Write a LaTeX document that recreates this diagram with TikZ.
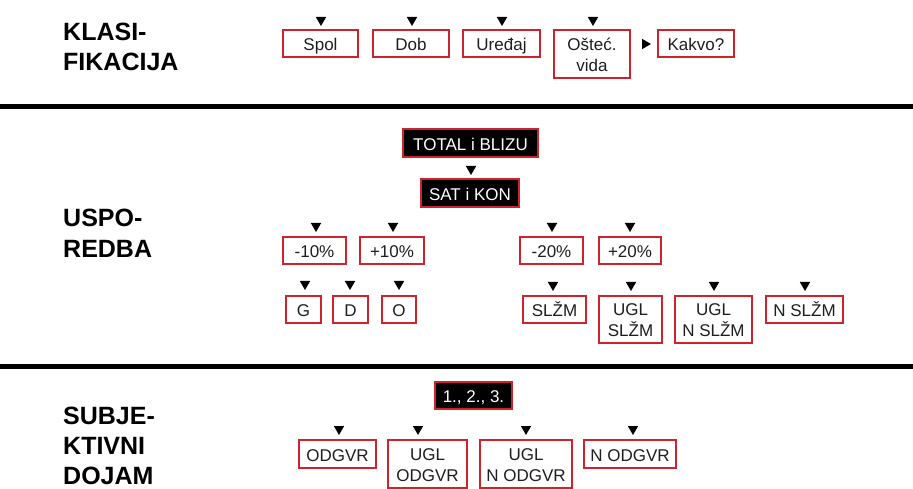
\documentclass[tikz,border=0pt]{standalone}
\usepackage{fontspec}
\setmainfont{Liberation Sans}
\usetikzlibrary{shapes.geometric}
\definecolor{boxred}{RGB}{205,35,45}
\definecolor{txt}{RGB}{30,30,30}
\newcommand\boxtxt[1]{\begin{tabular}{@{}c@{}}\rule{0pt}{20.7pt}#1\end{tabular}}
\newcommand\boxtxttwo[1]{\begin{tabular}{@{}c@{}}\rule{0pt}{19.7pt}#1\end{tabular}}
\tikzset{
  box/.style={draw=boxred, line width=2pt, fill=white, text=txt,
    font=\fontsize{17}{21}\selectfont, inner sep=0pt, outer sep=0pt},
  darkbox/.style={box, fill=black, text=white},
  tridown/.style={regular polygon, regular polygon sides=3, shape border rotate=180,
    fill=black, draw=none, inner sep=0pt, outer sep=0pt, minimum size=12pt, anchor=south},
  triright/.style={regular polygon, regular polygon sides=3, shape border rotate=270,
    fill=black, draw=none, inner sep=0pt, outer sep=0pt, minimum size=12pt, anchor=east},
  head/.style={font=\fontsize{25}{30}\selectfont\bfseries, text=black, anchor=base west,
    inner sep=0pt, text depth=0pt},
  rule/.style={line width=5pt, black}
}
\begin{document}
\begin{tikzpicture}[x=1pt,y=-1pt]
\useasboundingbox (0,0) rectangle (913,489);
% separators
\coordinate (l1a) at (0,107); \coordinate (l1b) at (913,107);
\coordinate (l2a) at (0,366); \coordinate (l2b) at (913,366);
\draw[rule] (l1a) -- (l1b);
\draw[rule] (l2a) -- (l2b);
% headings
\node[head] (h1a) at (63,41) {KLASI-};
\node[head] (h1b) at (63,71) {FIKACIJA};
\node[head] (h2a) at (63,226) {USPO-};
\node[head] (h2b) at (63,258) {REDBA};
\node[head] (h3a) at (63,424) {SUBJE-};
\node[head] (h3b) at (63,454) {KTIVNI};
\node[head] (h3c) at (63,484) {DOJAM};
% section 1
\node[box, minimum width=75pt, minimum height=27pt] (spol) at (320.5,43.5) {\boxtxt{Spol}};
\node[box, minimum width=76pt, minimum height=27pt] (dob) at (411,43.5) {\boxtxt{Dob}};
\node[box, minimum width=77pt, minimum height=27pt] (ured) at (501.5,43.5) {\boxtxt{Uređaj}};
\node[box, minimum width=76pt, minimum height=48pt] (ostec) at (592,54) {\boxtxttwo{Ošteć.\\vida}};
\node[box, minimum width=76pt, minimum height=27pt] (kakvo) at (696,43.5) {\boxtxt{Kakvo?}};
\node[tridown] (t11) at (321,26) {};
\node[tridown] (t12) at (412,26) {};
\node[tridown] (t13) at (502,26) {};
\node[tridown] (t14) at (593,26) {};
\node[triright] (t15) at (651,44) {};
% section 2
\node[darkbox, minimum width=135pt, minimum height=28pt] (total) at (470.5,143) {\boxtxt{TOTAL i BLIZU}};
\node[tridown] (t20) at (471,175) {};
\node[darkbox, minimum width=98pt, minimum height=28pt] (satkon) at (470,193) {\boxtxt{SAT i KON}};
\node[box, minimum width=63pt, minimum height=27pt] (m10) at (314.5,250.5) {\boxtxt{-10\%}};
\node[box, minimum width=64pt, minimum height=27pt] (p10) at (392,250.5) {\boxtxt{+10\%}};
\node[box, minimum width=63pt, minimum height=27pt] (m20) at (551.5,250.5) {\boxtxt{-20\%}};
\node[box, minimum width=62pt, minimum height=27pt] (p20) at (630,250.5) {\boxtxt{+20\%}};
\node[tridown] (t21) at (316,232) {};
\node[tridown] (t22) at (393,232) {};
\node[tridown] (t23) at (552,232) {};
\node[tridown] (t24) at (630,232) {};
\node[box, minimum width=35pt, minimum height=27pt] (g) at (303.5,309.5) {\boxtxt{G}};
\node[box, minimum width=35pt, minimum height=27pt] (d) at (350.5,309.5) {\boxtxt{D}};
\node[box, minimum width=34pt, minimum height=27pt] (o) at (399,309.5) {\boxtxt{O}};
\node[box, minimum width=63pt, minimum height=27pt] (slzm) at (554.5,309.5) {\boxtxt{SLŽM}};
\node[box, minimum width=63pt, minimum height=47pt] (uglslzm) at (630.5,319.5) {\boxtxttwo{UGL\\SLŽM}};
\node[box, minimum width=77pt, minimum height=47pt] (uglnslzm) at (713.5,319.5) {\boxtxttwo{UGL\\N SLŽM}};
\node[box, minimum width=77pt, minimum height=27pt] (nslzm) at (804.5,309.5) {\boxtxt{N SLŽM}};
\node[tridown] (t31) at (305,290) {};
\node[tridown] (t32) at (350,290) {};
\node[tridown] (t33) at (399,290) {};
\node[tridown] (t34) at (553,291) {};
\node[tridown] (t35) at (631,291) {};
\node[tridown] (t36) at (714,291) {};
\node[tridown] (t37) at (805,291) {};
% section 3
\node[darkbox, minimum width=77pt, minimum height=27pt] (nums) at (473.5,395.5) {\boxtxt{1., 2., 3.}};
\node[box, minimum width=77pt, minimum height=28pt] (odgvr) at (337.5,454) {\boxtxt{ODGVR}};
\node[box, minimum width=79pt, minimum height=48pt] (uglodgvr) at (427.5,464) {\boxtxttwo{UGL\\ODGVR}};
\node[box, minimum width=92pt, minimum height=48pt] (uglnodgvr) at (526,464) {\boxtxttwo{UGL\\N ODGVR}};
\node[box, minimum width=92pt, minimum height=28pt] (nodgvr) at (630,454) {\boxtxt{N ODGVR}};
\node[tridown] (t41) at (339,435) {};
\node[tridown] (t42) at (418,435) {};
\node[tridown] (t43) at (526,435) {};
\node[tridown] (t44) at (633,435) {};
\end{tikzpicture}
\end{document}
